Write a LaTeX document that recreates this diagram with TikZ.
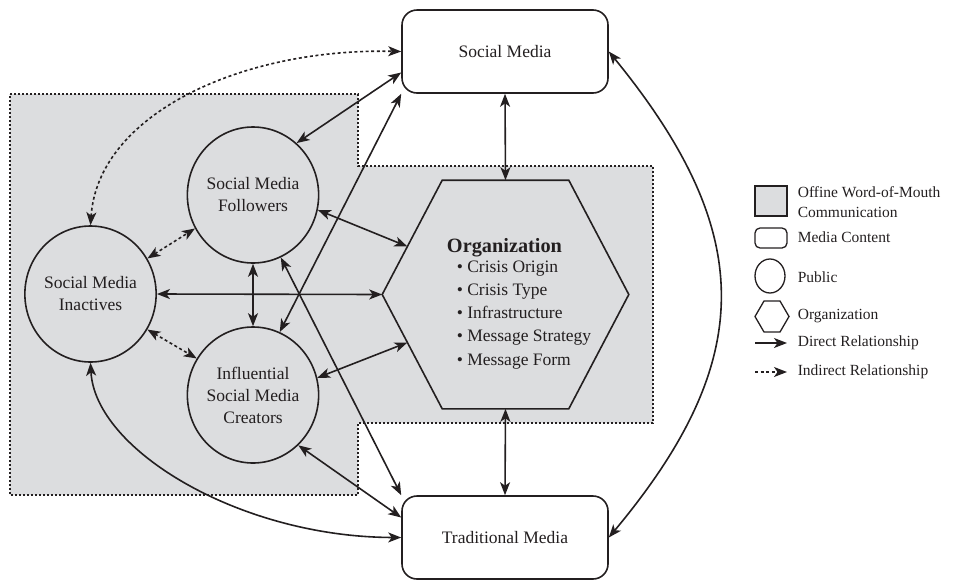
\documentclass[tikz,border=0pt]{standalone}
\usepackage{fontspec}
\setmainfont{Liberation Serif}
\usetikzlibrary{arrows.meta,shapes.geometric,calc}

\definecolor{womgray}{RGB}{220,221,223}
\definecolor{ink}{RGB}{35,31,32}

\begin{document}
\begin{tikzpicture}[x=1pt,y=-1pt,color=ink,line width=1.6pt,
  >={Stealth[length=13pt,width=10pt,inset=3.5pt]},
  textfont/.style={font=\fontsize{17.5}{22}\selectfont},
  media/.style={draw,rectangle,rounded corners=15pt,fill=white,
    minimum width=206,minimum height=83,textfont},
  public/.style={draw,ellipse,minimum width=128,minimum height=136,
    inner sep=0pt,align=center,textfont},
  wom/.style={fill=womgray,line width=1.2pt,dash pattern=on 1.6pt off 2.4pt},
  hint/.style={dash pattern=on 3pt off 2.6pt},
  legend/.style={anchor=west,inner sep=0pt,align=left,
    font=\fontsize{15.5}{19.5}\selectfont}]
\useasboundingbox (0,0) rectangle (953,579);

% offline word-of-mouth area
\draw[wom] (10,94) -- (358,94) -- (358,166) -- (653,166) -- (653,423)
  -- (358,423) -- (358,495) -- (10,495) -- cycle;

% media content
\node[media] (smedia) at (505,51.5) {Social Media};
\node[media] (tmedia) at (505,537.5) {Traditional Media};

% publics
\node[public] (inactives) at (90.5,294) {Social Media\\Inactives};
\node[public] (followers) at (253,195) {Social Media\\Followers};
\node[public] (creators) at (253,395) {Influential\\Social Media\\Creators};

% organization hexagon
\node[minimum width=245,minimum height=227,inner sep=0pt] (org) at (505.5,294.5) {};
\coordinate (hexNW) at ([xshift=60]org.north west);
\coordinate (hexNE) at ([xshift=-60]org.north east);
\coordinate (hexSE) at ([xshift=-60]org.south east);
\coordinate (hexSW) at ([xshift=60]org.south west);
\draw (hexNW) -- (hexNE) -- (org.east) -- (hexSE) -- (hexSW) -- (org.west) -- cycle;
\node[anchor=base,font=\bfseries\fontsize{20.3}{24}\selectfont] (orgname) at (504.5,252) {Organization};
\foreach \txt [count=\k] in {Crisis Origin,Crisis Type,Infrastructure,Message Strategy,Message Form}
  \node[anchor=base west,inner sep=0pt,textfont] (item\k) at (456,248.75+23.25*\k) {\textbullet\ \txt};

% relationships
\draw[<->,hint] (inactives.north) .. controls (98,115) and (240,48) .. (smedia.west);
\draw[<->] (followers.50) -- ([yshift=-21]smedia.west);
\draw[<->] (creators.67) -- (smedia.south west);
\draw[<->] (followers.-13) -- ($(org.west)!0.42!(hexNW)$);
\draw[<->] (inactives.east) -- (org.west);
\draw[<->] (followers.south) -- (creators.north);
\draw[<->,hint] (inactives.32) -- (followers.210);
\draw[<->,hint] (inactives.-32) -- (creators.147);
\draw[<->] (creators.15) -- ($(org.west)!0.42!(hexSW)$);
\draw[<->] (followers.-66) -- (tmedia.north west);
\draw[<->] (creators.-48) -- ([yshift=20]tmedia.west);
\draw[<->] (inactives.south) .. controls (95,450) and (240,537) .. (tmedia.west);
\draw[<->] (smedia.south) -- (org.north);
\draw[<->] (org.south) -- (tmedia.north);
\draw[<->] (smedia.east) .. controls (757,233) and (757,360) .. (tmedia.east);

% legend
\draw[fill=womgray,line width=1.3pt] (755,186) rectangle (787,216);
\draw[rounded corners=5pt,line width=1.3pt] (755,228) rectangle (787,248);
\draw[line width=1.3pt] (770,276) ellipse [x radius=15,y radius=17];
\draw[line width=1.3pt] (755,316.5) -- (764,301) -- (780,301) -- (789,316.5)
  -- (780,332) -- (764,332) -- cycle;
\draw[->,line width=1.3pt] (755,343) -- (787,343);
\draw[->,hint,line width=1.3pt] (755,372) -- (787,372);
\node[legend] (lwom) at (797,202) {Offine Word-of-Mouth\\Communication};
\node[legend] (lmedia) at (797,237) {Media Content};
\node[legend] (lpublic) at (797,277) {Public};
\node[legend] (lorg) at (797,316) {Organization};
\node[legend] (ldirect) at (797,343) {Direct Relationship};
\node[legend] (lindirect) at (797,372) {Indirect Relationship};
\end{tikzpicture}
\end{document}
